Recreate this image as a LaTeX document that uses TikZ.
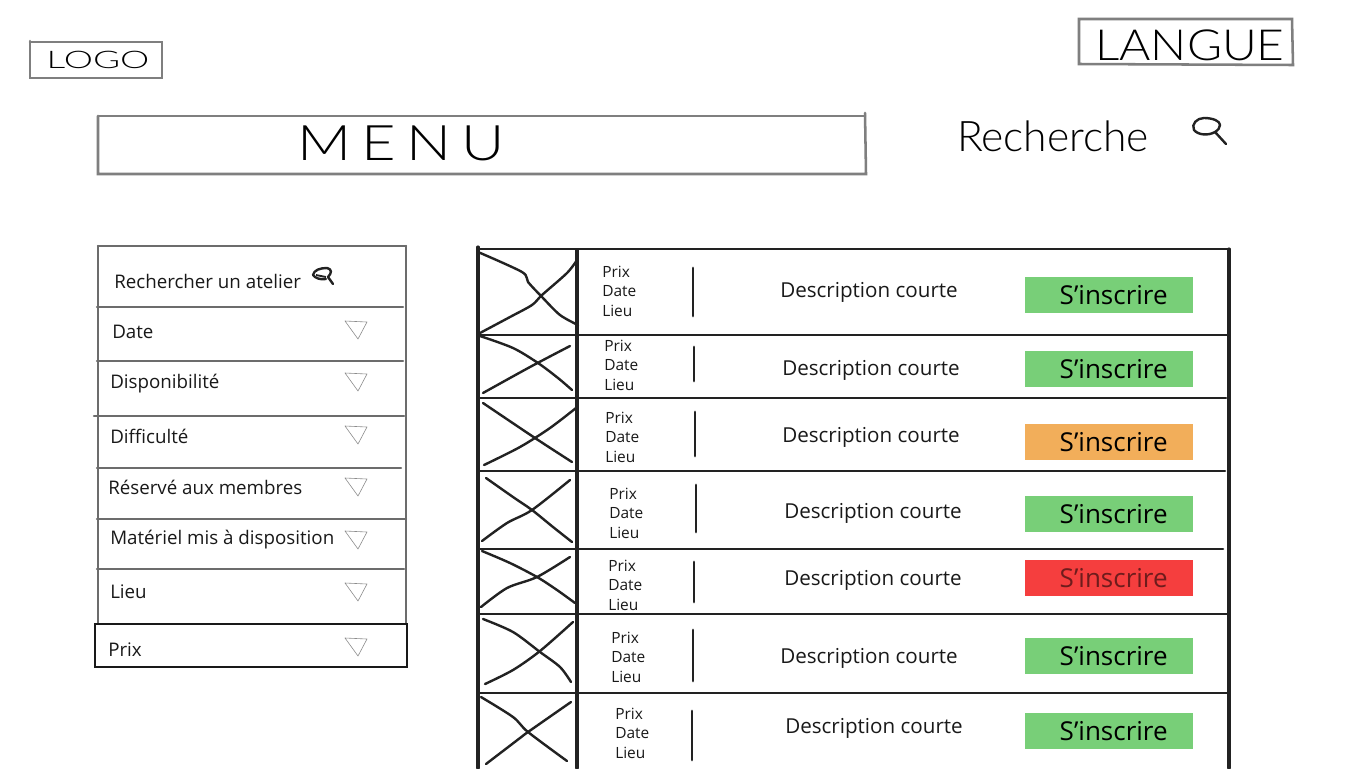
\documentclass[tikz,border=0pt]{standalone}
\usepackage{fontspec}
\setmainfont{Open Sans}
\newfontfamily\handfont{Lato Light}
\usetikzlibrary{calc}
\definecolor{okgreen}{HTML}{78CF78}
\definecolor{warnorange}{HTML}{F2AE5A}
\definecolor{fullred}{HTML}{F53E3E}
\definecolor{penline}{HTML}{222222}
\definecolor{softline}{HTML}{7F7F7F}
\tikzset{
  sheet/.style={x=0.75pt,y=-0.75pt},
  softrule/.style={draw=softline,line width=1.9pt,line cap=round},
  panelrule/.style={draw=softline!85!black,line width=1.7pt,line cap=round},
  tablerule/.style={draw=penline,line width=1.9pt,line cap=round},
  tablepost/.style={draw=penline,line width=2.3pt,line cap=round},
  crossstroke/.style={draw=penline,line width=1.8pt,line cap=round,line join=round},
  divider/.style={draw=penline,line width=2.1pt,line cap=round},
  hand/.style={inner sep=0pt,text=black,font=\handfont},
  filterlabel/.style={anchor=base west,inner sep=0pt,font=\fontsize{14.05}{16}\selectfont,text=black!90},
  infolabel/.style={anchor=base west,inner sep=0pt,font=\fontsize{11.6}{14}\selectfont,text=black!90},
  desclabel/.style={anchor=base,inner sep=0pt,font=\fontsize{15.45}{18}\selectfont,text=black!90},
  signbutton/.style={anchor=center,minimum width=126pt,minimum height=27pt,inner sep=0pt,font=\fontsize{19.5}{22}\selectfont,text=black},
  dropmark/.style={draw=black!45,line width=0.45pt,line join=round},
}
\begin{document}
\begin{tikzpicture}[sheet]
\useasboundingbox (0,0) rectangle (1366,768);
\fill[white] (0,0) rectangle (1366,768);

% header boxes
\draw[softrule] (30,41) -- (30,78) -- (162,78) -- (162,42) -- (30,42);
\node[hand] (logotext) at (98,60) {\resizebox{77pt}{13pt}{LOGO}};
\draw[softrule] (1079,19) -- (1079,64) -- (1293,65) -- (1292,19) -- cycle;
\node[hand] (languetext) at (1190,45) {\resizebox{142pt}{23pt}{LANGUE}};
\draw[softrule] (98,116) -- (98,174) -- (866,174) -- (865,113);
\draw[softrule] (99,116) -- (865,116);
\node[hand] (menutext) at (401,143) {\resizebox{155pt}{26pt}{M\,E\,N\,U}};
\node[hand] (searchtext) at (1053,136) {\resizebox{144pt}{23pt}{Recherche}};
% large magnifier
\draw[crossstroke] (1215,132) .. controls (1208,136) and (1198,135) .. (1194,130)
   .. controls (1191,124) and (1197,118) .. (1204,118) .. controls (1213,118) and (1220,121) .. (1220,125)
   .. controls (1220,128) and (1218,130) .. (1215,132) -- (1226,144);

% filter panel
\draw[panelrule] (98,246) -- (406,246);
\draw[panelrule] (98,246) -- (98,623);
\draw[panelrule] (406,246) -- (406,623);
\draw[panelrule] (97,307) -- (403,307);
\draw[panelrule] (97,361) -- (403,361);
\draw[panelrule] (94,416) -- (404,416);
\draw[panelrule] (97,468) -- (401,468);
\draw[panelrule] (97,519) -- (406,519);
\draw[panelrule] (97,569) -- (404,569);
\draw[draw=black!90,line width=1.9pt] (95,667) -- (95,624) -- (407,624) -- (407,667) -- cycle;

\node[filterlabel] (f0) at (114,288) {Rechercher un atelier};
\node[filterlabel] (f1) at (112,338) {Date};
\node[filterlabel] (f2) at (110,388) {Disponibilité};
\node[filterlabel] (f3) at (110,443) {Difficulté};
\node[filterlabel] (f4) at (108,494) {Réservé aux membres};
\node[filterlabel] (f5) at (110,544) {Matériel mis à disposition};
\node[filterlabel] (f6) at (110,598) {Lieu};
\node[filterlabel] (f7) at (108,656) {Prix};

% small magnifier
\draw[draw=penline,line width=1.8pt,line cap=round,line join=round]
  (326,279) .. controls (320,280) and (315,278) .. (313,275)
  .. controls (314,270) and (320,268) .. (327,268) .. controls (332,269) and (332,273) .. (328,277) -- (333,284);
\draw[draw=penline,line width=1.4pt] (316,275) -- (326,277);

% dropdown triangles
\foreach \ty in {321,373,426,478,531,583,638}
  \draw[dropmark] (345,\ty) -- (367,\ty+1) -- (358,\ty+18) -- cycle;

% table frame
\draw[tablepost] (478,247) -- (478,768);
\draw[tablepost] (577,250) -- (577,768);
\draw[tablepost] (1229,249) -- (1229,768);
\draw[tablerule] (478,249) -- (1229,249);
\draw[tablerule] (478,335) -- (1229,335);
\draw[tablerule] (480,398) -- (1226,398);
\draw[tablerule] (479,471) -- (1225,471);
\draw[tablerule] (480,549) -- (1223,549);
\draw[tablerule] (478,614) -- (1229,614);
\draw[tablerule] (480,693) -- (1229,693);

% image placeholders
\draw[crossstroke] plot[smooth,tension=.5] coordinates {(478,252) (522,272) (528,282) (542,297) (560,315) (578,325)};
\draw[crossstroke] plot[smooth,tension=.5] coordinates {(480,333) (510,317) (532,305) (542,295) (567,273) (577,260)};
\draw[crossstroke] plot[smooth,tension=.5] coordinates {(480,336) (513,348) (538,363) (558,378) (572,390)};
\draw[crossstroke] plot[smooth,tension=.5] coordinates {(483,393) (530,367) (570,346)};
\draw[crossstroke] plot[smooth,tension=.5] coordinates {(483,403) (535,438) (572,462)};
\draw[crossstroke] plot[smooth,tension=.5] coordinates {(484,465) (520,447) (550,428) (576,408)};
\draw[crossstroke] plot[smooth,tension=.5] coordinates {(486,478) (513,497) (532,510) (553,527) (572,542)};
\draw[crossstroke] plot[smooth,tension=.5] coordinates {(482,541) (507,523) (532,510) (570,480)};
\draw[crossstroke] plot[smooth,tension=.5] coordinates {(482,551) (510,563) (537,577) (557,590) (575,603)};
\draw[crossstroke] plot[smooth,tension=.5] coordinates {(481,607) (507,588) (537,577) (570,557)};
\draw[crossstroke] plot[smooth,tension=.5] coordinates {(483,619) (513,632) (540,652) (560,667) (571,682)};
\draw[crossstroke] plot[smooth,tension=.5] coordinates {(485,684) (513,670) (540,651) (573,622)};
\draw[crossstroke] plot[smooth,tension=.5] coordinates {(481,697) (513,717) (528,732) (567,761)};
\draw[crossstroke] plot[smooth,tension=.5] coordinates {(486,764) (520,738) (528,732) (571,702)};

% row dividers
\draw[divider] (693,268) -- (693,316);
\draw[divider] (694,347) -- (694,381);
\draw[divider] (695,412) -- (695,456);
\draw[divider] (696,485) -- (696,532);
\draw[divider] (694,562) -- (694,602);
\draw[divider] (693,630) -- (693,681);
\draw[divider] (692,711) -- (692,760);

% row texts
\foreach \n/\px/\py/\dx/\dy in {
  1/602/277/869/297,
  2/604/351/871/375,
  3/605/423/871/442,
  4/609/499/873/518,
  5/608/571/873/585,
  6/611/643/869/663,
  7/615/719/874/733}{
  \node[infolabel] (prix\n) at (\px,\py+.5) {Prix};
  \node[infolabel] (date\n) at (\px,\py+19.5) {Date};
  \node[infolabel] (lieu\n) at (\px,\py+39.5) {Lieu};
  \node[desclabel] (desc\n) at (\dx,\dy+.6) {Description courte};
}
\node[signbutton,fill=okgreen] (btn1) at (1109,295) {\raisebox{.6pt}{\hspace*{7pt}S’inscrire}};
\node[signbutton,fill=okgreen] (btn2) at (1109,369) {\raisebox{.6pt}{\hspace*{7pt}S’inscrire}};
\node[signbutton,fill=warnorange] (btn3) at (1109,442) {\raisebox{.6pt}{\hspace*{7pt}S’inscrire}};
\node[signbutton,fill=okgreen] (btn4) at (1109,514) {\raisebox{.6pt}{\hspace*{7pt}S’inscrire}};
\node[signbutton,fill=fullred,text=black!55!fullred] (btn5) at (1109,578) {\raisebox{.6pt}{\hspace*{7pt}S’inscrire}};
\node[signbutton,fill=okgreen] (btn6) at (1109,656) {\raisebox{.6pt}{\hspace*{7pt}S’inscrire}};
\node[signbutton,fill=okgreen] (btn7) at (1109,731) {\raisebox{.6pt}{\hspace*{7pt}S’inscrire}};
\end{tikzpicture}
\end{document}
